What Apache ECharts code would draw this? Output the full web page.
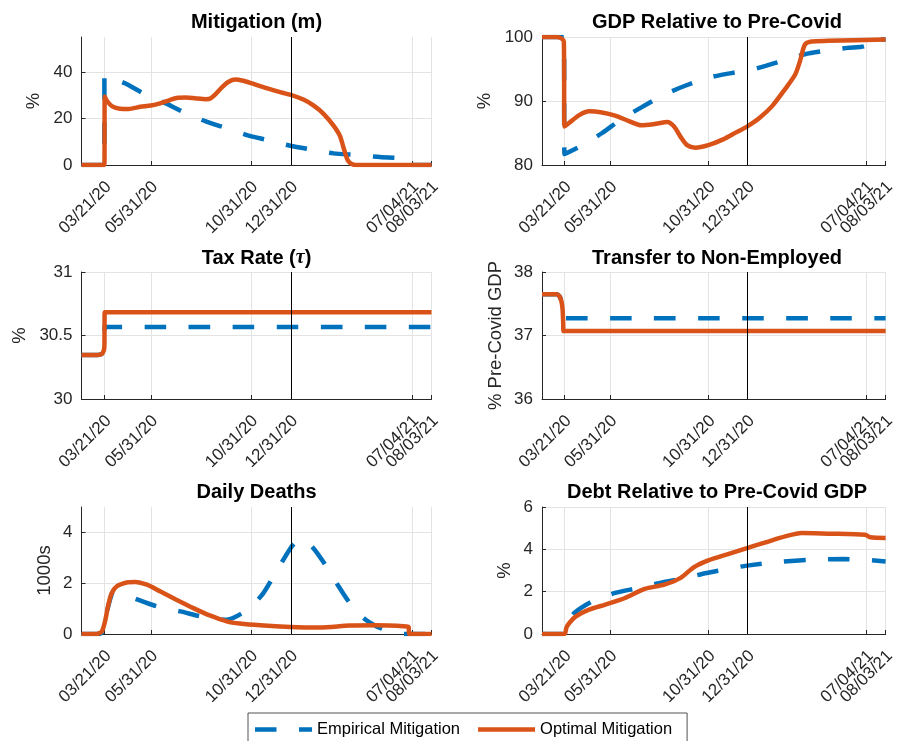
<!DOCTYPE html>
<html>
<head>
<meta charset="utf-8">
<script src="https://cdn.jsdelivr.net/npm/echarts@6/dist/echarts.min.js"></script>
<style>
  html, body { margin: 0; padding: 0; background: #fff; }
  #chart { width: 898px; height: 741px; }
</style>
</head>
<body>
<div id="chart"></div>
<script>
// Horizontal positions are days counted from 03/21/20.
const tickDays = [0, 71, 224, 285, 470, 500];
const tickLabels = ['03/21/20', '05/31/20', '10/31/20', '12/31/20', '07/04/21', '08/03/21'];
const dayMin = -35;
const dayMax = 500;
const markerDay = 285; // 12/31/20

const seriesNames = ['Empirical Mitigation', 'Optimal Mitigation'];

// Mitigation (m), %
const mitigationEmpirical = [[-35,0],[0,0],[0,38.7],[15,37],[31.6,35.1],[59.6,30.8],[90,27],[120,22.9],[156,18.6],[187,15.8],[222,12.5],[248,10.8],[284,8.3],[319,6.5],[350,5.0],[387,4.3],[421,3.4],[457,2.9],[468,2.6],[470,0],[500,0]];
const mitigationOptimal = [[-35,0],[0,0],[0.5,29.4],[4,27.5],[12,25.2],[24,24.2],[37,24.1],[55,25.0],[71,25.6],[85,26.5],[100,27.9],[112,28.9],[125,29.0],[140,28.6],[155,28.3],[162,28.6],[170,30.5],[180,33.5],[190,35.8],[200,36.7],[212,36.2],[224,35.2],[248,33.0],[270,31.2],[285,30.1],[305,28.0],[320,25.5],[335,22.0],[350,17.0],[360,12.5],[366,7.0],[372,2.0],[378,0.4],[385,0],[500,0]];

// GDP relative to pre-Covid, %
const gdpEmpirical = [[-35,100],[-1,100],[0,81.7],[28,83.1],[58.6,85],[89.1,87.2],[119.7,89],[155.3,91],[190.9,92.5],[226.6,93.7],[262.2,94.4],[284.1,94.7],[313.1,95.5],[343.7,96.4],[374.2,97.3],[409.9,97.9],[440.4,98.3],[468.4,98.6],[470,99.6],[500,99.6]];
const gdpOptimal = [[-35,100],[-12,100],[-5,99.8],[-1,99.3],[0,86.0],[7.6,86.6],[22.9,87.8],[38.2,88.4],[58.6,88.2],[78.9,87.7],[99.3,86.9],[119.7,86.2],[140,86.4],[160,86.7],[170.6,86.0],[180.8,84.4],[190.9,83.1],[203.7,82.7],[224,83.1],[247,84.0],[267.3,85.1],[284.1,86.0],[303,87.3],[323.3,89.2],[343.7,91.9],[359,94.1],[366.6,96.2],[374.2,98.8],[384.4,99.3],[410,99.4],[500,99.6]];

// Tax rate, %
const taxEmpirical = [[-35,30.347],[-10,30.347],[-4,30.355],[-1,30.38],[0,30.42],[0.3,30.566],[500,30.566]];
const taxOptimal = [[-35,30.347],[-10,30.347],[-4,30.355],[-1,30.38],[0,30.42],[0.5,30.684],[500,30.684]];

// Transfer to non-employed, % of pre-Covid GDP
const transferEmpirical = [[-35,37.65],[-12,37.65],[-8,37.62],[-5,37.55],[-3,37.42],[-2.4,37.27],[500,37.27]];
const transferOptimal = [[-35,37.65],[-12,37.65],[-8,37.62],[-5,37.55],[-3,37.42],[-2,37.2],[-1.5,37.07],[500,37.07]];

// Daily deaths, thousands
const deathsEmpirical = [[-35,0],[-12,0],[-4,0.05],[1,0.5],[6,1.1],[11,1.55],[14,1.7],[25,1.6],[44,1.42],[80,1.09],[116,0.89],[146,0.7],[166,0.6],[187,0.56],[202,0.7],[222,1.02],[243,1.61],[263,2.47],[284,3.36],[294,3.65],[304,3.71],[317,3.45],[334,2.86],[355,2.0],[375,1.22],[396,0.63],[416,0.3],[436,0.1],[449,0.01],[460,0],[500,0]];
const deathsOptimal = [[-35,0],[-12,0],[-4,0.1],[1,0.5],[6,1.15],[11,1.6],[19,1.88],[34,2.03],[47,2.05],[65,1.94],[85,1.68],[110,1.35],[136,1.02],[161,0.73],[187,0.5],[207,0.41],[238,0.34],[284,0.28],[329,0.26],[375,0.33],[416,0.34],[462,0.3],[465,0.28],[466,0],[500,0]];

// Debt relative to pre-Covid GDP, %
const debtEmpirical = [[-35,0],[0,0],[5,0.5],[15.3,0.99],[43.3,1.54],[78.9,1.94],[114.6,2.17],[155.3,2.46],[180.8,2.6],[221.5,2.88],[257.1,3.09],[284.1,3.23],[333.5,3.4],[384.4,3.51],[435.3,3.54],[468.4,3.51],[500,3.43]];
const debtOptimal = [[-35,0],[0,0],[3,0.3],[7.6,0.52],[17.8,0.83],[38.2,1.15],[63.6,1.39],[94.2,1.7],[124.7,2.13],[155.3,2.33],[180.8,2.65],[201.1,3.15],[224,3.48],[257.1,3.8],[284.1,4.06],[313.1,4.33],[343.7,4.61],[369.1,4.77],[409.9,4.74],[468.4,4.69],[476,4.57],[500,4.54]];

// y-axis ranges and tick values for each panel
const yMins = [0, 80, 30, 36, 0, 0];
const yMaxs = [55, 100, 31, 38, 5, 6];
const yTicks = [[0,20,40],[80,90,100],[30,30.5,31],[36,37,38],[0,2,4],[0,2,4,6]];
const yNames = ['%', '%', '%', '% Pre-Covid GDP', '1000s', '%'];
const panelTitles = ['Mitigation (m)', 'GDP Relative to Pre-Covid', 'Tax Rate ({tau|τ})', 'Transfer to Non-Employed', 'Daily Deaths', 'Debt Relative to Pre-Covid GDP'];

const empiricalData = [mitigationEmpirical, gdpEmpirical, taxEmpirical, transferEmpirical, deathsEmpirical, debtEmpirical];
const optimalData = [mitigationOptimal, gdpOptimal, taxOptimal, transferOptimal, deathsOptimal, debtOptimal];

// Layout of the 3x2 panel grid
const FONT = 'Liberation Sans, Arial, Helvetica, sans-serif';
const AXIS_COLOR = '#262626';
const GRID_COLOR = '#e3e3e3';
const TICK_FONT = 17;
const NAME_FONT = 18.5;
const colLeft = [81.5, 542];
const colWidth = 350;
const rowTop = [37, 272, 507];
const rowHeight = [128, 127, 127];
const titleTop = [12, 248, 482.5];
const yNameGap = [38, 47.5, 52, 37, 27, 27.5];

const BLUE = '#0072BD';
const ORANGE = '#D95319';
const LINE_W = 4.5;
const DASH = [21.5, 22.5];

// The last two date labels sit close together; the final one is carried by
// a second, label-only axis so the automatic min/max overlap pruning keeps both.
const lastTick = tickDays.length - 1;
const mainLabelDays = tickDays.slice(0, lastTick);
const endLabelDays = [tickDays[lastTick]];
const dateLabel = v => { const i = tickDays.indexOf(v); return i >= 0 ? tickLabels[i] : ''; };
const xLabelStyle = {
  rotate: 45, margin: 15, verticalAlign: 'top', lineHeight: 12,
  showMinLabel: true, showMaxLabel: true, hideOverlap: false,
  fontFamily: FONT, fontSize: TICK_FONT, color: AXIS_COLOR,
  formatter: dateLabel
};

const grids = [], xAxes = [], yAxes = [], titles = [], series = [];

for (let p = 0; p < 6; p++) {
  const col = p % 2, row = Math.floor(p / 2);
  grids.push({ left: colLeft[col], top: rowTop[row], width: colWidth, height: rowHeight[row] });

  titles.push({
    text: panelTitles[p],
    left: colLeft[col] + colWidth / 2,
    top: titleTop[row],
    textAlign: 'center',
    padding: 0,
    textStyle: {
      fontFamily: FONT, fontSize: 20, fontWeight: 'bold', color: '#000',
      rich: { tau: { fontFamily: 'Liberation Serif, serif', fontStyle: 'italic', fontWeight: 'bold', fontSize: 20, color: '#000' } }
    }
  });

  xAxes[p] = {
    type: 'value', gridIndex: p, min: dayMin, max: dayMax, position: 'bottom',
    axisLine: { show: true, onZero: false, lineStyle: { color: AXIS_COLOR, width: 1 } },
    axisTick: { show: true, inside: true, length: 4, customValues: tickDays, lineStyle: { color: AXIS_COLOR, width: 1 } },
    axisLabel: Object.assign({ customValues: mainLabelDays }, xLabelStyle),
    splitLine: { show: true, lineStyle: { color: GRID_COLOR, width: 1 } }
  };
  xAxes[p + 6] = {
    type: 'value', gridIndex: p, min: dayMin, max: dayMax, position: 'bottom', offset: 0,
    axisLine: { show: false, onZero: false },
    axisTick: { show: false },
    axisLabel: Object.assign({ customValues: endLabelDays }, xLabelStyle),
    splitLine: { show: false }
  };

  yAxes.push({
    type: 'value', gridIndex: p, min: yMins[p], max: yMaxs[p],
    axisLine: { show: true, onZero: false, lineStyle: { color: AXIS_COLOR, width: 1 } },
    axisTick: { show: true, inside: true, length: 4, customValues: yTicks[p], lineStyle: { color: AXIS_COLOR, width: 1 } },
    axisLabel: { customValues: yTicks[p], margin: 9, fontFamily: FONT, fontSize: TICK_FONT, color: AXIS_COLOR },
    splitLine: { show: true, lineStyle: { color: GRID_COLOR, width: 1 } },
    name: yNames[p], nameLocation: 'middle', nameRotate: 90, nameGap: yNameGap[p],
    nameTextStyle: { fontFamily: FONT, fontSize: NAME_FONT, color: AXIS_COLOR }
  });

  series.push({
    name: seriesNames[0], type: 'line', xAxisIndex: p, yAxisIndex: p,
    data: empiricalData[p], showSymbol: false, symbol: 'none', smooth: 0.25,
    lineStyle: { color: BLUE, width: LINE_W, type: DASH },
    itemStyle: { color: BLUE }, z: 2
  });
  series.push({
    name: seriesNames[1], type: 'line', xAxisIndex: p, yAxisIndex: p,
    data: optimalData[p], showSymbol: false, symbol: 'none', smooth: 0.25,
    lineStyle: { color: ORANGE, width: LINE_W, type: 'solid' },
    itemStyle: { color: ORANGE }, z: 3,
    markLine: {
      silent: true, symbol: ['none', 'none'], label: { show: false },
      lineStyle: { color: '#000', width: 1, type: 'solid' },
      data: [{ xAxis: markerDay }]
    }
  });
}

const chart = echarts.init(document.getElementById('chart'), null, { renderer: 'canvas' });
chart.setOption({
  animation: false,
  backgroundColor: '#fff',
  title: titles,
  grid: grids,
  xAxis: xAxes,
  yAxis: yAxes,
  legend: {
    data: [
      // dashed sample: dash, gap, partial dash
      { name: seriesNames[0], icon: 'path://M0 0H21.5V1H0Z M44 0H57V1H44Z' },
      { name: seriesNames[1], icon: 'path://M0 0H57V1H0Z' }
    ],
    left: 248, top: 713,
    orient: 'horizontal',
    selectedMode: false,
    symbolKeepAspect: false,
    itemWidth: 57, itemHeight: 4.5, itemGap: 18,
    padding: [8, 15, 8, 7],
    borderColor: '#262626', borderWidth: 0.8, borderRadius: 0,
    backgroundColor: '#fff',
    textStyle: { fontFamily: FONT, fontSize: 16.5, color: '#000' }
  },
  series: series
});
</script>
</body>
</html>
